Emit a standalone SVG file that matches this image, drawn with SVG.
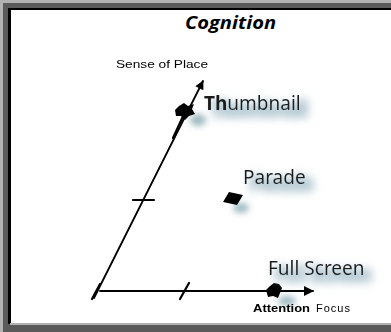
<svg xmlns="http://www.w3.org/2000/svg" width="391" height="332" viewBox="0 0 391 332">
  <style>
    .ax { stroke: #000; stroke-width: 1.8; fill: none; stroke-linecap: round; }
    .tick { stroke: #000; stroke-width: 2.2; fill: none; stroke-linecap: round; }
    .lbl { font-family: "Noto Sans", "DejaVu Sans", sans-serif; font-size: 19px; fill: #1a1a1a; }
    .small { font-family: "Liberation Sans", Arial, sans-serif; font-size: 11px; fill: #000; }
    .blob { fill: #000; }
    .shade { fill: #4d7d8c; opacity: 0.55; }
  </style>
  <defs>
    <filter id="blur" x="-50%" y="-50%" width="200%" height="200%">
      <feGaussianBlur stdDeviation="3"/>
    </filter>
    <filter id="txtShadow" x="-20%" y="-60%" width="160%" height="250%">
      <feMorphology in="SourceAlpha" operator="dilate" radius="1.5" result="d"/>
      <feGaussianBlur in="d" stdDeviation="4" result="b"/>
      <feOffset dx="7" dy="6" result="o"/>
      <feFlood flood-color="#7ea2b2" flood-opacity="0.55"/>
      <feComposite in2="o" operator="in" result="s"/>
      <feMerge><feMergeNode in="s"/><feMergeNode in="SourceGraphic"/></feMerge>
    </filter>
    <marker id="arr" viewBox="0 0 10 10" refX="9" refY="5" markerWidth="11" markerHeight="10" markerUnits="userSpaceOnUse" orient="auto">
      <path d="M0,0 L10,5 L0,10 z" fill="#000"/>
    </marker>
    <marker id="arrS" viewBox="0 0 10 10" refX="9" refY="5" markerWidth="10" markerHeight="9" markerUnits="userSpaceOnUse" orient="auto">
      <path d="M0,0 L10,5 L0,10 z" fill="#000"/>
    </marker>
  </defs>

  <!-- frame -->
  <g id="frame">
    <rect x="0" y="0" width="391" height="332" fill="#b2b2b2"/>
    <rect x="3" y="3" width="388" height="329" fill="#5a5a5a"/>
    <rect x="8" y="8" width="383" height="316" fill="#000"/>
    <rect x="11" y="10" width="380" height="313" fill="#fff"/>
    <rect x="10" y="323" width="381" height="2" fill="#b2b2b2"/>
  </g>

  <g id="title">
    <text x="185" y="29" font-family="'Open Sans', 'Liberation Sans', sans-serif" font-size="18" font-weight="bold" font-style="italic" textLength="91" lengthAdjust="spacingAndGlyphs">Cognition</text>
  </g>

  <!-- shadows -->
  <g id="shadows" filter="url(#blur)">
    <ellipse class="shade" cx="198" cy="120" rx="8" ry="6"/>
    <ellipse class="shade" cx="241" cy="208" rx="8" ry="5"/>
    <ellipse class="shade" cx="287" cy="301" rx="9" ry="5"/>
  </g>

  <g id="connectors">
    <line class="ax" x1="94" y1="298" x2="203" y2="81" marker-end="url(#arrS)"/>
    <line class="ax" x1="100" y1="291" x2="313" y2="291" marker-end="url(#arr)"/>
    <line class="tick" x1="173" y1="138" x2="185" y2="112" stroke-width="3"/>
    <line class="tick" x1="92" y1="299" x2="100" y2="284" stroke-width="3"/>
    <line class="tick" x1="133" y1="200" x2="154" y2="200"/>
    <line class="tick" x1="180" y1="299" x2="189" y2="283"/>
  </g>

  <g id="axis-sense-of-place">
    <text class="small" x="116" y="68" textLength="92" lengthAdjust="spacingAndGlyphs">Sense of Place</text>
  </g>

  <g id="axis-attention-focus">
    <text class="small" x="253" y="312" font-size="12.5" font-weight="bold" textLength="57" lengthAdjust="spacingAndGlyphs">Attention</text>
    <text class="small" x="316" y="312" font-size="11" textLength="34" lengthAdjust="spacing">Focus</text>
  </g>

  <g id="node-thumbnail">
    <path class="blob" d="M175,110 L179,106 L184,103 L188,106 L194,104 L192,109 L195,114 L189,116 L185,120 L181,116 L176,116 Z"/>
    <text class="lbl" x="204" y="110" filter="url(#txtShadow)"><tspan font-weight="bold">Th</tspan>umbnail</text>
  </g>

  <g id="node-parade">
    <path class="blob" d="M229,192 L243,195 L237,205 L223,202 Z"/>
    <text class="lbl" x="243" y="184" filter="url(#txtShadow)">Parade</text>
  </g>

  <g id="node-full-screen">
    <path class="blob" d="M266,290 L270,286 L274,283 L279,284 L282,288 L280,293 L278,298 L273,296 L268,297 Z"/>
    <text class="lbl" x="268" y="275" filter="url(#txtShadow)">Full Screen</text>
  </g>
</svg>
